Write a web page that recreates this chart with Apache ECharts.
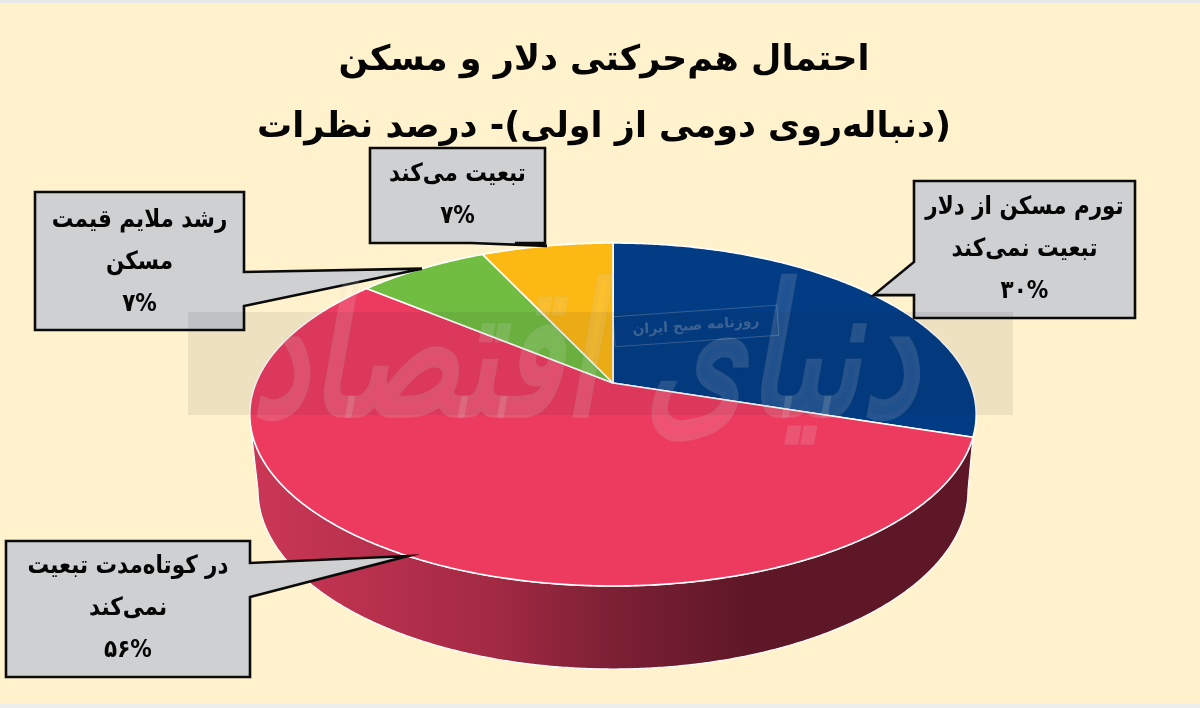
<!DOCTYPE html>
<html dir="rtl" lang="fa">
<head>
<meta charset="utf-8">
<style>html,body{margin:0;padding:0;background:#FFF2CC}#c{position:absolute;left:0;top:0;width:1200px;height:708px}</style>
<script src="https://cdn.jsdelivr.net/npm/echarts@6/dist/echarts.min.js"></script>
</head>
<body>
<div id="c"></div>
<script>
var titleText = 'احتمال هم‌حرکتی دلار و مسکن\n(دنباله‌روی دومی از اولی)- درصد نظرات';
var categories = ['تورم مسکن از دلار\nتبعیت نمی‌کند', 'در کوتاه‌مدت تبعیت\nنمی‌کند', 'رشد ملایم قیمت\nمسکن', 'تبعیت می‌کند'];
var values = [30, 56, 7, 7];
var sliceColors = ['#023C85', '#ED3B60', '#70BD41', '#FCB813'];
var valueLabels = ['۳۰%', '۵۶%', '۷%', '۷%'];

var FONT = '"DejaVu Sans","Noto Sans",sans-serif';
// perspective ellipse of the pie's top face
var CX = 613, CY = 383, RX = 357, RY = 165.7, PERSP = -0.1837;
// base ellipse of the wall
var BX = 613, BY = 490, BRX = 355, BRY = 179;
var WALL_LEFT = 255;
// callout boxes [x, y, w, h] and pointer base [x1,y1,x2,y2], text centre y
var boxes = [
  {r:[914,181,221,137], b:[914,262,914,295], ty:249},
  {r:[6,541,244,136],   b:[250,563,250,597], ty:608},
  {r:[35,192,209,138],  b:[244,272,244,306], ty:262},
  {r:[370,148,175,95],  b:[515,243,471,243], ty:195}
];
var total = values.reduce(function(a,b){return a+b;},0);

function topPoint(deg){
  var t = deg*Math.PI/180, u = Math.sin(t), v = -Math.cos(t), d = 1+PERSP*v;
  return [CX+RX*u/d, CY+RY*v/d];
}
function basePoint(deg){
  var t = deg*Math.PI/180;
  return [BX+BRX*Math.sin(t), BY-BRY*Math.cos(t)];
}
function sliceAngles(i, api){
  var s = 0;
  for (var k=0;k<i;k++) s += values[k];
  return [s/total*360, (s+api.value(0))/total*360];
}
function renderSlice(params, api){
  var a = sliceAngles(params.dataIndex, api), pts = [[CX,CY]], kids = [];
  for (var d=a[0]; d<a[1]; d+=0.5) pts.push(topPoint(d));
  pts.push(topPoint(a[1]));
  if (a[0] < 180 && a[1] > 180) {
    var w = [], end = Math.min(WALL_LEFT, a[1]);
    for (var e=a[0]; e<=end; e+=0.5) w.push(topPoint(e));
    for (var f=270; f>=90; f-=0.5) w.push(basePoint(f));
    kids.push({type:'polygon', shape:{points:w}, style:{
      fill:{type:'linear', x:250, y:0, x2:975, y2:0, global:true, colorStops:[
        {offset:0,color:'#CB3756'},{offset:0.33,color:'#A42A44'},{offset:0.485,color:'#7F2136'},
        {offset:0.69,color:'#5E1726'},{offset:1,color:'#5E1726'}]},
      stroke:'#FFFFFF', lineWidth:1.2}});
  }
  kids.push({type:'polygon', shape:{points:pts}, style:{fill:api.visual('color'), stroke:'#FFFFFF', lineWidth:1.6, lineJoin:'round'}});
  return {type:'group', children:kids};
}
function renderCallout(params, api){
  var i = params.dataIndex, a = sliceAngles(i, api), b = boxes[i], r = b.r;
  var tip = topPoint((a[0]+a[1])/2);
  var x0=r[0], y0=r[1], x1=r[0]+r[2], y1=r[1]+r[3], p;
  if (b.b[0]===x0 && b.b[2]===x0) p=[[x0,y0],[x1,y0],[x1,y1],[x0,y1],[b.b[2],b.b[3]],tip,[b.b[0],b.b[1]]];
  else if (b.b[0]===x1) p=[[x0,y0],[x1,y0],[b.b[0],b.b[1]],tip,[b.b[2],b.b[3]],[x1,y1],[x0,y1]];
  else p=[[x0,y0],[x1,y0],[x1,y1],[b.b[0],b.b[1]],tip,[b.b[2],b.b[3]],[x0,y1]];
  return {type:'group', children:[
    {type:'polygon', shape:{points:p}, style:{fill:'#CFD0D2', stroke:'#0A0A0A', lineWidth:2.6, lineJoin:'miter'}},
    {type:'group', x:(x0+x1)/2, y:b.ty, scaleX:0.86, children:[
      {type:'text', style:{x:0, y:0, text:categories[i]+'\n'+valueLabels[i], align:'center', verticalAlign:'middle',
        font:'bold 25px '+FONT, lineHeight:42, fill:'#050505'}}
    ]}
  ]};
}
var seriesData = values.map(function(v,i){return {value:v, name:categories[i], itemStyle:{color:sliceColors[i]}};});

var chart = echarts.init(document.getElementById('c'), null, {renderer:'canvas', width:1200, height:708});
chart.setOption({
  backgroundColor:'#FFF2CC',
  animation:false,
  title:{text:titleText, left:599, top:22, textAlign:'center',
    textStyle:{fontFamily:FONT, fontWeight:'bold', fontSize:35, lineHeight:67, color:'#050505'}},
  series:[
    {type:'custom', coordinateSystem:'none', z:2, data:seriesData, renderItem:renderSlice, silent:true},
    {type:'custom', coordinateSystem:'none', z:3, data:seriesData, renderItem:renderCallout, silent:true}
  ],
  graphic:[
    {type:'rect', z:0, shape:{x:0,y:0,width:1200,height:3}, style:{fill:'#E9E9E9'}, silent:true},
    {type:'rect', z:0, shape:{x:0,y:704,width:1200,height:4}, style:{fill:'#EDEDED'}, silent:true},
    {type:'rect', z:20, shape:{x:188,y:312,width:825,height:103}, style:{fill:'rgba(30,30,40,0.08)'}, silent:true},
    {type:'group', x:585, y:368, scaleY:1.4, silent:true, children:[
      {type:'text', z:21, style:{x:0, y:0, text:'دنیای اقتصاد', align:'center', verticalAlign:'middle', font:'italic bold 130px '+FONT,
        fill:'rgba(255,255,255,0.12)', stroke:'rgba(120,110,100,0.05)', lineWidth:1}}
    ]},
    {type:'group', x:696, y:326, rotation:0.07, silent:true, children:[
      {type:'rect', z:21, shape:{x:-82,y:-15,width:164,height:30}, style:{fill:'none', stroke:'rgba(230,225,215,0.22)', lineWidth:1}},
      {type:'text', z:21, style:{x:0,y:0,text:'روزنامه صبح ایران', align:'center', verticalAlign:'middle', font:'bold 14px '+FONT, fill:'rgba(230,225,215,0.25)'}}
    ]}
  ]
});
</script>
</body>
</html>
